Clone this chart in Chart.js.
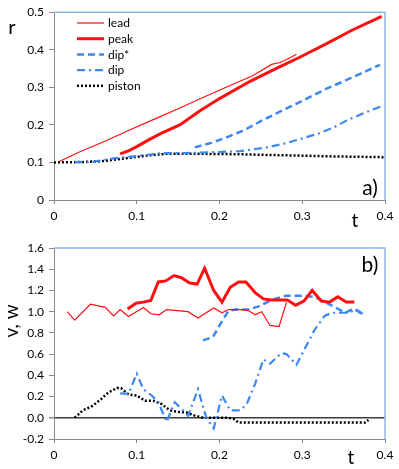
<!DOCTYPE html>
<html><head><meta charset="utf-8">
<script src="https://cdn.jsdelivr.net/npm/chart.js@4/dist/chart.umd.min.js"></script>
<style>
html,body{margin:0;padding:0;background:#fff;}
canvas{position:absolute;left:0;}
#ca{top:0;}
#cb{top:230px;}
</style></head><body>
<canvas id="ca" width="399" height="230"></canvas>
<canvas id="cb" width="399" height="239"></canvas>
<script>
// ---------- panel a) : r vs t ----------
const seriesLabels = ['lead', 'peak', 'dip*', 'dip', 'piston'];
const xTicksA = [0, 0.1, 0.2, 0.3, 0.4];
const yTicksA = [0, 0.1, 0.2, 0.3, 0.4, 0.5];
const yTicksB = [-0.2, 0, 0.2, 0.4, 0.6, 0.8, 1.0, 1.2, 1.4, 1.6];

const aLeadT = [0.007,0.03,0.06,0.09,0.12,0.15,0.18,0.21,0.24,0.263,0.273,0.283,0.293];
const aLeadR = [0.103,0.127,0.155,0.185,0.214,0.243,0.273,0.302,0.331,0.361,0.366,0.376,0.388];
const aPeakT = [0.08,0.09,0.10,0.116,0.13,0.152,0.176,0.2,0.237,0.27,0.297,0.33,0.36,0.396];
const aPeakR = [0.123,0.131,0.142,0.162,0.178,0.20,0.237,0.27,0.316,0.352,0.38,0.417,0.452,0.489];
const aDipST = [0.17,0.19,0.21,0.23,0.25,0.27,0.29,0.31,0.33,0.35,0.37,0.394];
const aDipSR = [0.14,0.152,0.168,0.186,0.21,0.232,0.253,0.275,0.297,0.316,0.336,0.36];
const aDipT = [0.025,0.045,0.072,0.104,0.132,0.16,0.19,0.225,0.257,0.28,0.297,0.32,0.338,0.354,0.375,0.396];
const aDipR = [0.101,0.101,0.111,0.118,0.125,0.125,0.127,0.13,0.14,0.151,0.162,0.177,0.193,0.212,0.232,0.25];
const aPistonT = [0,0.03,0.056,0.08,0.096,0.12,0.136,0.176,0.22,0.257,0.3,0.338,0.37,0.4];
const aPistonR = [0.1,0.101,0.103,0.109,0.114,0.12,0.123,0.123,0.122,0.12,0.118,0.116,0.115,0.114];

// ---------- panel b) : v, w vs t ----------
const bLeadT = [0.016,0.025,0.044,0.062,0.072,0.08,0.09,0.108,0.117,0.127,0.136,0.162,0.174,0.193,0.203,0.211,0.226,0.235,0.243,0.251,0.261,0.272,0.281];
const bLeadV = [1.0,0.92,1.07,1.04,0.96,1.02,0.955,1.04,0.98,0.97,1.02,1.0,0.94,1.035,0.99,1.02,1.02,1.01,0.97,1.0,0.87,0.86,1.09];
const bPeakT = [0.089,0.099,0.108,0.117,0.126,0.135,0.145,0.154,0.164,0.173,0.182,0.193,0.203,0.213,0.223,0.232,0.243,0.253,0.263,0.273,0.282,0.292,0.302,0.312,0.323,0.333,0.343,0.353,0.363];
const bPeakV = [1.025,1.08,1.09,1.105,1.28,1.29,1.34,1.32,1.27,1.26,1.41,1.2,1.09,1.23,1.28,1.28,1.18,1.12,1.11,1.11,1.11,1.06,1.10,1.20,1.10,1.09,1.14,1.09,1.09];
const bDipST = [0.180,0.192,0.20,0.211,0.22,0.235,0.247,0.263,0.28,0.30,0.315,0.33,0.34,0.352,0.362,0.374];
const bDipSV = [0.73,0.76,0.87,1.01,1.02,1.02,1.05,1.11,1.15,1.15,1.14,1.08,1.04,0.99,1.03,0.97];
const bDipT = [0.08,0.09,0.10,0.108,0.118,0.126,0.136,0.146,0.162,0.174,0.184,0.193,0.203,0.213,0.225,0.233,0.243,0.253,0.261,0.275,0.281,0.293,0.303,0.315,0.327,0.336,0.346,0.356,0.365,0.373];
const bDipV = [0.23,0.225,0.415,0.27,0.21,0.15,-0.04,0.146,0.02,0.27,0.0,-0.1,0.21,0.07,0.07,0.13,0.32,0.55,0.51,0.61,0.60,0.50,0.65,0.83,0.96,0.99,0.99,0.99,1.02,0.98];
const bPistonT = [0.025,0.035,0.046,0.056,0.066,0.076,0.081,0.09,0.10,0.11,0.12,0.13,0.14,0.15,0.16,0.17,0.18,0.19,0.20,0.21,0.217,0.223,0.25,0.3,0.35,0.376,0.38];
const bPistonV = [0,0.07,0.11,0.17,0.24,0.28,0.28,0.22,0.21,0.16,0.16,0.13,0.07,0.055,0.05,0.02,0,0,0,0,-0.01,-0.045,-0.045,-0.045,-0.045,-0.045,-0.02];

const FONT = 'Lato, "Open Sans", sans-serif';
const RED = '#ff1010', BLUE = '#3d87ee', BLACK = '#000000';
const AXIS = '#8a8a8a', FRAME = '#8db8ea';

function pts(xs, ys) { return xs.map((x, i) => ({ x: x, y: ys[i] })); }
function ds(label, xs, ys, color, width, dash) {
  return { label, data: pts(xs, ys), borderColor: color, backgroundColor: color,
    borderWidth: width, borderDash: dash, borderCapStyle: 'butt', showLine: true,
    pointRadius: 0, pointHoverRadius: 0, fill: false, tension: 0 };
}
const STY = [
  [RED, 1.2, []],
  [RED, 3, []],
  [BLUE, 2.5, [7, 4]],
  [BLUE, 2.2, [8, 4, 2, 4]],
  [BLACK, 2.5, [2, 2]]
];

function fmtT(v) { return Math.abs(v) < 1e-9 ? '0' : (+v).toFixed(1); }
function fmtB(v) { return (+v).toFixed(1); }

const frame = { id: 'frame', beforeDatasetsDraw(chart) {
  const { ctx, chartArea: a } = chart;
  ctx.save(); ctx.strokeStyle = FRAME; ctx.lineWidth = 1.5;
  ctx.beginPath(); ctx.moveTo(a.left, a.top); ctx.lineTo(a.right, a.top); ctx.lineTo(a.right, a.bottom); ctx.stroke();
  ctx.restore();
}};

const texts = { id: 'texts', afterDraw(chart, args, opts) {
  const ctx = chart.ctx;
  (opts.items || []).forEach(it => {
    ctx.save();
    ctx.fillStyle = '#000';
    ctx.font = it.size + 'px ' + FONT;
    ctx.textAlign = 'center'; ctx.textBaseline = 'middle';
    ctx.translate(it.x, it.y);
    if (it.rot) ctx.rotate(it.rot);
    ctx.fillText(it.text, 0, 0);
    ctx.restore();
  });
}};

const legendBox = { id: 'legendBox', afterDraw(chart, args, opts) {
  if (!opts.show) return;
  const ctx = chart.ctx;
  chart.data.datasets.forEach((d, i) => {
    const y = opts.y0 + i * opts.dy;
    ctx.save();
    ctx.strokeStyle = d.borderColor; ctx.lineWidth = d.borderWidth;
    ctx.setLineDash(d.borderDash || []);
    ctx.beginPath(); ctx.moveTo(opts.x0, y); ctx.lineTo(opts.x1, y); ctx.stroke();
    ctx.setLineDash([]);
    ctx.fillStyle = '#000'; ctx.font = '12px ' + FONT;
    ctx.textAlign = 'left'; ctx.textBaseline = 'middle';
    ctx.fillText(d.label, opts.tx, y + 0.5);
    ctx.restore();
  });
}};

function xScale(ticksArr) {
  return { type: 'linear', min: ticksArr[0], max: ticksArr[ticksArr.length - 1],
    afterBuildTicks: s => { s.ticks = ticksArr.map(v => ({ value: v })); },
    ticks: { callback: fmtT, font: { family: FONT, size: 12 }, color: '#000', padding: 5, maxRotation: 0, autoSkip: false },
    grid: { display: true, drawOnChartArea: false, drawTicks: true, tickLength: 4, color: AXIS, tickColor: AXIS },
    border: { display: true, color: AXIS, width: 1 },
    afterFit: s => { s.height = 30; } };
}
function yScale(ticksArr, fmt, zeroLine) {
  return { type: 'linear', min: ticksArr[0], max: ticksArr[ticksArr.length - 1],
    afterBuildTicks: s => { s.ticks = ticksArr.map(v => ({ value: v })); },
    ticks: { callback: fmt, font: { family: FONT, size: 12 }, color: '#000', padding: 5, autoSkip: false },
    grid: { display: true, drawOnChartArea: !!zeroLine, drawTicks: true, tickLength: 5,
      color: c => (zeroLine && c.tick && Math.abs(c.tick.value) < 1e-9) ? '#3c3c3c' : 'rgba(0,0,0,0)',
      lineWidth: c => (zeroLine && c.tick && Math.abs(c.tick.value) < 1e-9) ? 1.5 : 1,
      tickColor: AXIS },
    border: { display: true, color: AXIS, width: 1 },
    afterFit: s => { s.width = 54; } };
}

function makeDatasets(groups) {
  return groups.map((g, i) => ds(seriesLabels[i], g[0], g[1], STY[i][0], STY[i][1], STY[i][2]));
}

new Chart(document.getElementById('ca'), {
  type: 'scatter',
  data: { datasets: makeDatasets([[aLeadT, aLeadR], [aPeakT, aPeakR], [aDipST, aDipSR], [aDipT, aDipR], [aPistonT, aPistonR]]) },
  options: {
    responsive: false, animation: false, devicePixelRatio: 1,
    layout: { padding: { top: 10, right: 14, left: 0, bottom: 0 } },
    scales: { x: xScale(xTicksA), y: yScale(yTicksA, fmtT, false) },
    plugins: { legend: { display: false }, tooltip: { enabled: false },
      legendBox: { show: true, x0: 77, x1: 104, tx: 108, y0: 23, dy: 15.7 },
      texts: { items: [ { text: 'r', x: 12, y: 28, size: 20 }, { text: 't', x: 355, y: 221, size: 19 }, { text: 'a)', x: 370, y: 188, size: 21 } ] } }
  },
  plugins: [frame, legendBox, texts]
});

new Chart(document.getElementById('cb'), {
  type: 'scatter',
  data: { datasets: makeDatasets([[bLeadT, bLeadV], [bPeakT, bPeakV], [bDipST, bDipSV], [bDipT, bDipV], [bPistonT, bPistonV]]) },
  options: {
    responsive: false, animation: false, devicePixelRatio: 1,
    layout: { padding: { top: 18, right: 14, left: 0, bottom: 0 } },
    scales: { x: xScale(xTicksA), y: yScale(yTicksB, fmtB, true) },
    plugins: { legend: { display: false }, tooltip: { enabled: false },
      legendBox: { show: false },
      texts: { items: [ { text: 'v, w', x: 12, y: 91, size: 19, rot: -Math.PI / 2 }, { text: 't', x: 351, y: 228, size: 19 }, { text: 'b)', x: 370, y: 35, size: 21 } ] } }
  },
  plugins: [frame, legendBox, texts]
});
</script>
</body></html>
